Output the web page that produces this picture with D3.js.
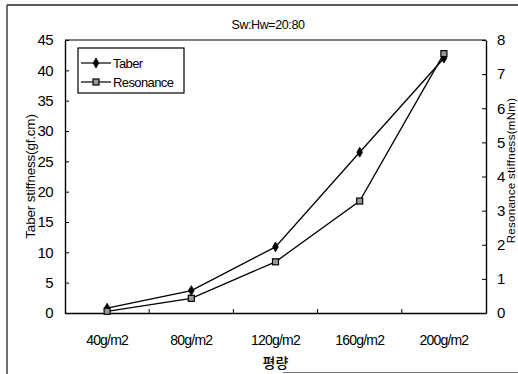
<!DOCTYPE html>
<html>
<head>
<meta charset="utf-8">
<script src="https://cdn.jsdelivr.net/npm/d3@7"></script>
<style>
    body { margin: 0; background: #fff; }
    text { font-family: "Liberation Sans", Arial, sans-serif; fill: #000; }
</style>
</head>
<body>
<div id="chart"></div>
<script>
var categories = ["40g/m2", "80g/m2", "120g/m2", "160g/m2", "200g/m2"]
var taberValues = [0.8, 3.7, 10.9, 26.5, 42.0]
var resonanceValues = [0.05, 0.43, 1.5, 3.28, 7.6]
var leftTicks = [0, 5, 10, 15, 20, 25, 30, 35, 40, 45]
var rightTicks = [0, 1, 2, 3, 4, 5, 6, 7, 8]

var svg_width = 518
var svg_height = 374

var margin = { top: 40, right: 32, bottom: 61, left: 65 },
    width = svg_width - margin.left - margin.right,
    height = svg_height - margin.top - margin.bottom;

var root = d3.select("#chart")
    .append("svg")
    .attr("width", svg_width)
    .attr("height", svg_height)

// outer frame of the scanned figure (partial)
root.append("line").attr("x1", 7).attr("x2", 518).attr("y1", 5).attr("y2", 5)
    .style("stroke", "#222").style("stroke-width", "1.3px")
root.append("line").attr("x1", 7).attr("x2", 7).attr("y1", 5).attr("y2", 374)
    .style("stroke", "#222").style("stroke-width", "1.3px")
root.append("line").attr("x1", 283).attr("x2", 518).attr("y1", 372.5).attr("y2", 372.5)
    .style("stroke", "#777").style("stroke-width", "1px")

var svg = root.append("g")
    .attr("transform", "translate(" + margin.left + "," + margin.top + ")");

var xScale = d3.scaleBand()
    .domain(categories)
    .range([0, width])

var yLeft = d3.scaleLinear()
    .domain([0, 45])
    .range([height, 0])

var yRight = d3.scaleLinear()
    .domain([0, 8])
    .range([height, 0])

var xCenter = d => xScale(d) + xScale.bandwidth() / 2

// top frame line
svg.append("line")
    .attr("x1", 0).attr("x2", width)
    .attr("y1", 0).attr("y2", 0)
    .style("stroke", "#000").style("stroke-width", "1.2px")

// x axis: labels at centers, ticks on the band edges
var xAxis = svg.append("g")
    .attr("transform", "translate(0," + height + ")")
    .call(d3.axisBottom(xScale).tickSize(0).tickPadding(22))
xAxis.select(".domain").style("stroke-width", "1.4px")
xAxis.selectAll("text")
    .style("font-size", "14px")
    .style("letter-spacing", "-0.8px")

svg.append("g").selectAll("line").data(categories.slice(1))
    .enter().append("line")
    .attr("x1", d => xScale(d)).attr("x2", d => xScale(d))
    .attr("y1", height).attr("y2", height - 4)
    .style("stroke", "#000")

var leftAxis = svg.append("g")
    .call(d3.axisLeft(yLeft).tickValues(leftTicks).tickSizeInner(-4).tickSizeOuter(0).tickPadding(12))
leftAxis.select(".domain").style("stroke-width", "1.4px")
leftAxis.selectAll("text").style("font-size", "15px").style("letter-spacing", "-0.6px")

var rightAxis = svg.append("g")
    .attr("transform", "translate(" + width + ",0)")
    .call(d3.axisRight(yRight).tickValues(rightTicks).tickSizeInner(-4).tickSizeOuter(0).tickPadding(11))
rightAxis.select(".domain").style("stroke-width", "1.4px")
rightAxis.selectAll("text").style("font-size", "15px")

// titles
root.append("text")
    .attr("x", 268).attr("y", 29)
    .attr("text-anchor", "middle")
    .style("font-size", "12.5px")
    .style("letter-spacing", "-0.4px")
    .text("Sw:Hw=20:80")

root.append("text")
    .attr("transform", "translate(35," + (margin.top + height / 2) + ") rotate(-90)")
    .attr("text-anchor", "middle")
    .style("font-size", "13.5px")
    .style("letter-spacing", "-0.2px")
    .text("Taber stiffness(gf.cm)")

root.append("text")
    .attr("transform", "translate(515," + (margin.top + height / 2 - 6) + ") rotate(-90)")
    .attr("text-anchor", "middle")
    .style("font-size", "11.5px")
    .style("letter-spacing", "0.3px")
    .text("Resonance stiffness(mNm)")

root.append("text")
    .attr("x", margin.left + width / 2).attr("y", 368)
    .attr("text-anchor", "middle")
    .style("font-family", "'Noto Sans CJK KR', sans-serif")
    .style("font-size", "14px")
    .style("font-weight", "500")
    .text("평량")

// series lines
var taberLine = d3.line()
    .x((d, i) => xCenter(categories[i]))
    .y(d => yLeft(d))

var resonanceLine = d3.line()
    .x((d, i) => xCenter(categories[i]))
    .y(d => yRight(d))

svg.append("path").datum(taberValues)
    .attr("d", taberLine)
    .style("fill", "none").style("stroke", "#000").style("stroke-width", "1.3px")

svg.append("path").datum(resonanceValues)
    .attr("d", resonanceLine)
    .style("fill", "none").style("stroke", "#000").style("stroke-width", "1.3px")

var diamond = d3.symbol().type(d3.symbolDiamond).size(28)

svg.append("g").selectAll("path").data(taberValues)
    .enter().append("path")
    .attr("d", diamond)
    .attr("transform", (d, i) => "translate(" + xCenter(categories[i]) + "," + yLeft(d) + ")")
    .style("fill", "#000").style("stroke", "#000").style("stroke-width", "0.8px")

svg.append("g").selectAll("rect").data(resonanceValues)
    .enter().append("rect")
    .attr("x", (d, i) => xCenter(categories[i]) - 3)
    .attr("y", d => yRight(d) - 3)
    .attr("width", 6).attr("height", 6)
    .style("fill", "#999").style("stroke", "#000").style("stroke-width", "1.2px")

// legend
var legend = root.append("g")
legend.append("rect")
    .attr("x", 78).attr("y", 48).attr("width", 106).attr("height", 45)
    .style("fill", "#fff").style("stroke", "#000").style("stroke-width", "1.2px")

var legendItems = ["Taber", "Resonance"]
legendItems.forEach(function(name, i) {
    var ly = 63 + i * 19
    legend.append("line")
        .attr("x1", 81).attr("x2", 111).attr("y1", ly).attr("y2", ly)
        .style("stroke", "#000").style("stroke-width", "1.2px")
    if (i == 0) {
        legend.append("path").attr("d", diamond)
            .attr("transform", "translate(96," + ly + ")")
            .style("fill", "#000").style("stroke", "#000").style("stroke-width", "0.8px")
    } else {
        legend.append("rect")
            .attr("x", 93).attr("y", ly - 3).attr("width", 6).attr("height", 6)
            .style("fill", "#999").style("stroke", "#000").style("stroke-width", "1.2px")
    }
    legend.append("text")
        .attr("x", 113).attr("y", ly + 4.5)
        .style("font-size", "13px")
        .style("letter-spacing", "-0.6px")
        .text(name)
})
</script>
</body>
</html>
